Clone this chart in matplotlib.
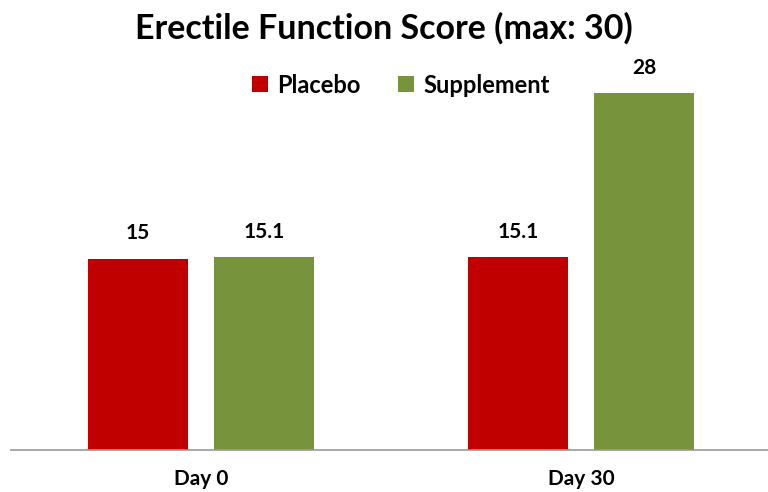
import matplotlib.pyplot as plt
import numpy as np

plt.rcParams['font.family'] = ['Lato', 'DejaVu Sans']
plt.rcParams['font.weight'] = 'bold'

days = ["Day 0", "Day 30"]
placebo = [15, 15.1]
supplement = [15.1, 28]
red = "#C00000"
green = "#77933C"

fig = plt.figure(figsize=(7.68, 4.92), dpi=100)
ax = fig.add_axes([11 / 768, 42 / 492, 757 / 768, 382.5 / 492])

x = np.arange(len(days))
w = 0.263
off = 0.166
b1 = ax.bar(x - off, placebo, w, color=red, label="Placebo")
b2 = ax.bar(x + off, supplement, w, color=green, label="Supplement")

for bars, vals in [(b1, placebo), (b2, supplement)]:
    for b, v in zip(bars, vals):
        ax.text(b.get_x() + b.get_width() / 2, v + 1.2, f"{v:g}",
                ha="center", va="bottom", fontsize=15, fontweight="bold")

ax.set_xlim(-0.5, 1.492)
ax.set_ylim(0, 30)
ax.set_xticks(x)
ax.set_xticklabels(days, fontsize=15, fontweight="bold")
ax.tick_params(axis="x", length=0, pad=14)
ax.set_yticks([])
for s in ["top", "right", "left"]:
    ax.spines[s].set_visible(False)
ax.spines["bottom"].set_color("#999999")
ax.spines["bottom"].set_linewidth(1.2)

fig.text(0.5, 0.943, "Erectile Function Score (max: 30)", ha="center", va="center",
         fontsize=24.5, fontweight="bold")
fig.legend(loc="center", bbox_to_anchor=(0.522, 0.827), ncol=2, frameon=False,
           prop={"size": 17, "weight": "bold"}, handlelength=0.65, handleheight=0.65,
           handletextpad=0.4, columnspacing=1.6)

fig.savefig("out.png", dpi=100)
